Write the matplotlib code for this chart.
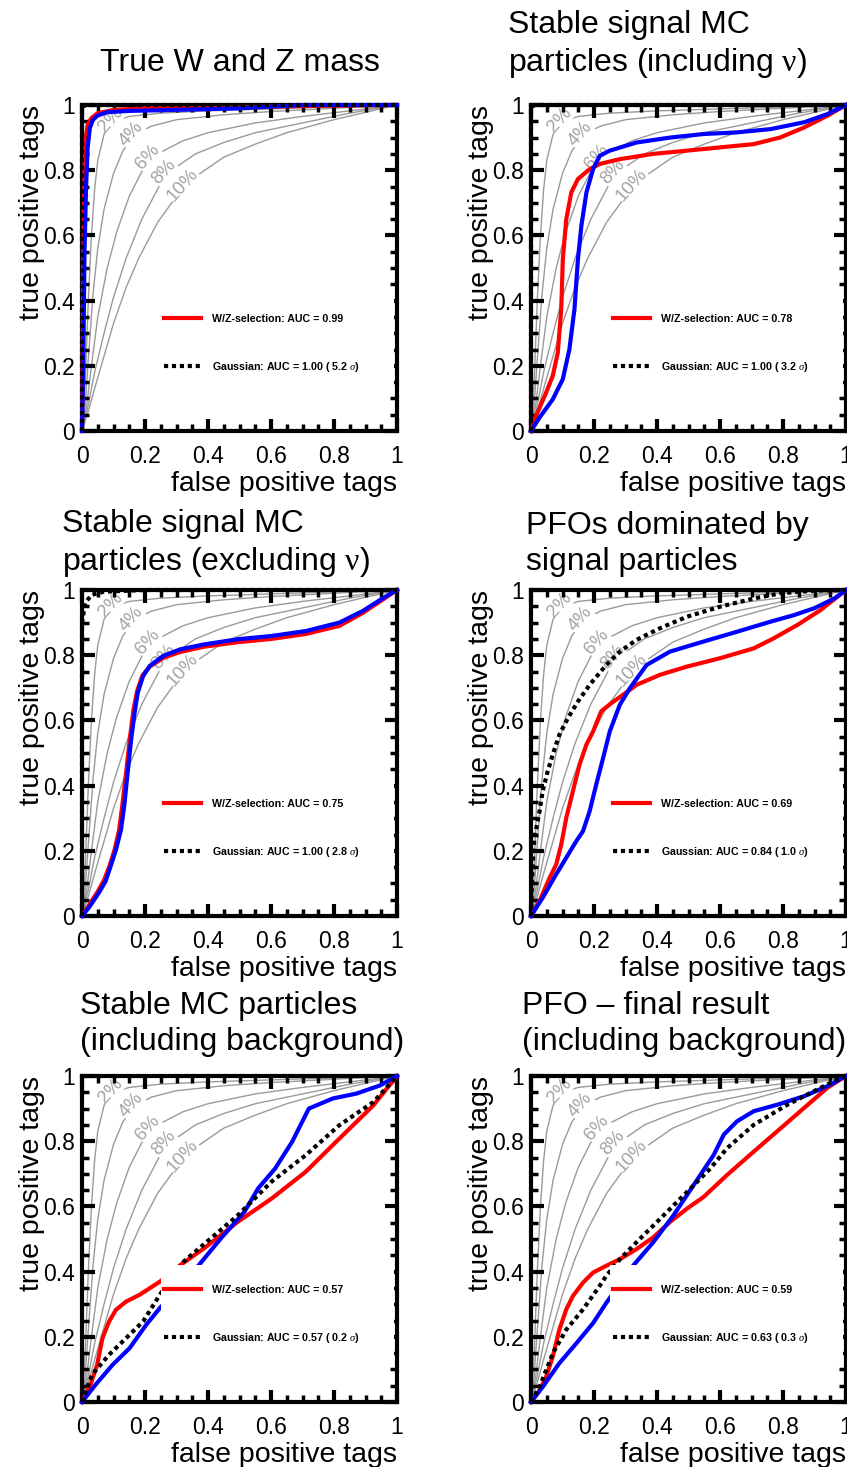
import matplotlib
matplotlib.use('Agg')
import matplotlib.pyplot as plt
from matplotlib.lines import Line2D
from matplotlib.patches import Rectangle

plt.rcParams['font.family'] = ['Liberation Sans', 'DejaVu Sans']
plt.rcParams['mathtext.fontset'] = 'custom'
plt.rcParams['mathtext.rm'] = 'Liberation Serif'
plt.rcParams['mathtext.it'] = 'Liberation Serif:italic'

# grey reference curves, identical in every panel
ref_names = ['2%', '4%', '6%', '8%', '10%']
ref_x = [
    [0, 0.01, 0.02, 0.03, 0.04, 0.05, 0.07, 0.1, 0.15, 0.25, 0.4, 0.6, 0.8, 1],
    [0, 0.01, 0.02, 0.035, 0.05, 0.07, 0.1, 0.13, 0.17, 0.22, 0.3, 0.45, 0.6, 0.8, 1],
    [0, 0.015, 0.03, 0.05, 0.08, 0.11, 0.15, 0.2, 0.25, 0.32, 0.4, 0.55, 0.7, 0.85, 1],
    [0, 0.02, 0.04, 0.07, 0.1, 0.14, 0.19, 0.25, 0.3, 0.36, 0.45, 0.55, 0.7, 0.85, 1],
    [0, 0.02, 0.04, 0.07, 0.1, 0.14, 0.18, 0.24, 0.3, 0.36, 0.45, 0.55, 0.65, 0.8, 1],
]
ref_y = [
    [0, 0.15, 0.4, 0.6, 0.74, 0.83, 0.91, 0.95, 0.965, 0.975, 0.982, 0.988, 0.994, 1],
    [0, 0.08, 0.22, 0.42, 0.56, 0.68, 0.79, 0.86, 0.91, 0.935, 0.955, 0.97, 0.98, 0.99, 1],
    [0, 0.08, 0.2, 0.35, 0.5, 0.61, 0.72, 0.815, 0.855, 0.89, 0.915, 0.945, 0.965, 0.982, 1],
    [0, 0.08, 0.18, 0.3, 0.41, 0.53, 0.65, 0.76, 0.81, 0.85, 0.885, 0.915, 0.945, 0.975, 1],
    [0, 0.06, 0.13, 0.23, 0.33, 0.44, 0.53, 0.64, 0.72, 0.78, 0.84, 0.88, 0.915, 0.955, 1],
]
ref_label_x = [0.092, 0.158, 0.21, 0.26, 0.32]
ref_label_y = [0.955, 0.91, 0.84, 0.795, 0.755]

titles = [
    'True W and Z mass',
    'Stable signal MC\nparticles (including $\\mathrm{\\nu}$)',
    'Stable signal MC\nparticles (excluding $\\mathrm{\\nu}$)',
    'PFOs dominated by\nsignal particles',
    'Stable MC particles\n(including background)',
    'PFO \u2013 final result\n(including background)',
]
wz_auc = ['0.99', '0.78', '0.75', '0.69', '0.57', '0.59']
gauss_auc = ['1.00', '1.00', '1.00', '0.84', '0.57', '0.63']
gauss_sigma = ['5.2', '3.2', '2.8', '1.0', '0.2', '0.3']

# panel 1: true W and Z mass
red1_x = [0, 0.002, 0.004, 0.008, 0.012, 0.018, 0.03, 0.05, 0.1, 0.2, 0.35, 0.5, 0.6, 0.75, 1]
red1_y = [0, 0.22, 0.55, 0.8, 0.9, 0.94, 0.96, 0.975, 0.985, 0.99, 0.99, 0.992, 0.995, 0.998, 1]
blue1_x = [0, 0.004, 0.008, 0.013, 0.018, 0.025, 0.035, 0.05, 0.08, 0.15, 0.3, 0.5, 0.7, 1]
blue1_y = [0, 0.2, 0.55, 0.75, 0.87, 0.93, 0.955, 0.968, 0.978, 0.982, 0.985, 0.99, 1.0, 1.0]
gauss1_x = [0, 0, 0.01, 1]
gauss1_y = [0, 0.99, 1, 1]

# panel 2: stable signal MC incl. nu
red2_x = [0, 0.016, 0.048, 0.069, 0.085, 0.096, 0.101, 0.112, 0.128, 0.149, 0.186, 0.218, 0.282,
          0.388, 0.495, 0.601, 0.707, 0.79, 0.867, 0.941, 1]
red2_y = [0, 0.046, 0.118, 0.169, 0.24, 0.374, 0.527, 0.65, 0.732, 0.773, 0.803, 0.819, 0.834,
          0.85, 0.86, 0.87, 0.88, 0.9, 0.931, 0.967, 1]
blue2_x = [0, 0.027, 0.069, 0.101, 0.122, 0.138, 0.149, 0.16, 0.176, 0.197, 0.218, 0.25, 0.335,
           0.441, 0.548, 0.654, 0.76, 0.867, 0.941, 1]
blue2_y = [0, 0.041, 0.097, 0.159, 0.251, 0.374, 0.527, 0.63, 0.732, 0.803, 0.844, 0.86, 0.885,
           0.9, 0.911, 0.916, 0.926, 0.947, 0.972, 1]
gauss2_x = [0, 0, 0.01, 1]
gauss2_y = [0, 0.99, 1, 1]

# panel 3: stable signal MC excl. nu
red3_x = [0, 0.02, 0.05, 0.07, 0.088, 0.104, 0.118, 0.128, 0.14, 0.152, 0.163, 0.175, 0.192, 0.215,
          0.258, 0.312, 0.387, 0.495, 0.602, 0.71, 0.817, 0.892, 0.957, 1]
red3_y = [0, 0.03, 0.075, 0.11, 0.155, 0.205, 0.265, 0.34, 0.44, 0.545, 0.63, 0.69, 0.738, 0.765,
          0.792, 0.81, 0.826, 0.84, 0.85, 0.865, 0.89, 0.93, 0.972, 1]
blue3_x = [0, 0.022, 0.054, 0.075, 0.091, 0.108, 0.124, 0.134, 0.145, 0.156, 0.167, 0.177, 0.194,
           0.215, 0.258, 0.312, 0.387, 0.495, 0.602, 0.71, 0.817, 0.892, 0.957, 1]
blue3_y = [0, 0.026, 0.072, 0.107, 0.153, 0.204, 0.266, 0.337, 0.44, 0.542, 0.624, 0.685, 0.736,
           0.767, 0.798, 0.818, 0.833, 0.849, 0.859, 0.874, 0.9, 0.936, 0.976, 1]
gauss3_x = [0, 0, 0.01, 0.03, 0.07, 0.2, 1]
gauss3_y = [0, 0.9, 0.96, 0.985, 0.995, 1, 1]

# panel 4: PFOs dominated by signal particles
red4_x = [0, 0.027, 0.059, 0.08, 0.096, 0.112, 0.133, 0.154, 0.176, 0.197, 0.223, 0.255, 0.293,
          0.335, 0.41, 0.495, 0.601, 0.707, 0.771, 0.846, 0.92, 1]
red4_y = [0, 0.046, 0.117, 0.158, 0.219, 0.301, 0.383, 0.464, 0.526, 0.566, 0.628, 0.653, 0.679,
          0.709, 0.74, 0.765, 0.791, 0.821, 0.852, 0.893, 0.939, 1]
blue4_x = [0, 0.037, 0.08, 0.112, 0.144, 0.165, 0.186, 0.207, 0.229, 0.25, 0.282, 0.314, 0.367,
           0.441, 0.548, 0.654, 0.761, 0.835, 0.899, 0.963, 1]
blue4_y = [0, 0.056, 0.128, 0.179, 0.23, 0.26, 0.321, 0.403, 0.485, 0.566, 0.648, 0.699, 0.77,
           0.811, 0.842, 0.872, 0.903, 0.923, 0.944, 0.974, 1]
gauss4_x = [0, 0.003, 0.008, 0.011, 0.027, 0.037, 0.053, 0.069, 0.09, 0.117, 0.149, 0.186, 0.239,
            0.282, 0.335, 0.41, 0.495, 0.601, 0.707, 0.793, 0.9, 1]
gauss4_y = [0, 0.1, 0.2, 0.24, 0.32, 0.383, 0.444, 0.495, 0.556, 0.607, 0.658, 0.709, 0.77,
            0.811, 0.847, 0.883, 0.918, 0.949, 0.974, 0.99, 0.998, 1]

# panel 5: stable MC particles incl. background
red5_x = [0, 0.027, 0.048, 0.065, 0.086, 0.108, 0.14, 0.183, 0.215, 0.247, 0.312, 0.387, 0.495,
          0.602, 0.71, 0.817, 0.925, 1]
red5_y = [0, 0.053, 0.114, 0.196, 0.247, 0.283, 0.308, 0.329, 0.349, 0.369, 0.42, 0.471, 0.553,
          0.624, 0.706, 0.808, 0.91, 1]
blue5_x = [0, 0.043, 0.097, 0.151, 0.204, 0.247, 0.371, 0.441, 0.516, 0.559, 0.613, 0.667, 0.72,
           0.796, 0.871, 0.946, 1]
blue5_y = [0, 0.053, 0.114, 0.165, 0.237, 0.288, 0.42, 0.502, 0.584, 0.655, 0.716, 0.798, 0.9,
           0.931, 0.946, 0.971, 1]
gauss5_x = [0, 0.032, 0.086, 0.14, 0.194, 0.247, 0.323, 0.409, 0.495, 0.602, 0.71, 0.817, 0.925, 1]
gauss5_y = [0, 0.084, 0.145, 0.196, 0.247, 0.329, 0.431, 0.502, 0.573, 0.676, 0.757, 0.849, 0.92, 1]

# panel 6: PFO final result incl. background
red6_x = [0, 0.027, 0.048, 0.069, 0.09, 0.112, 0.133, 0.165, 0.197, 0.239, 0.282, 0.335, 0.388,
          0.441, 0.495, 0.548, 0.622, 0.707, 0.793, 0.867, 0.941, 1]
red6_y = [0, 0.036, 0.077, 0.139, 0.222, 0.284, 0.325, 0.366, 0.397, 0.418, 0.438, 0.469, 0.505,
          0.552, 0.593, 0.629, 0.696, 0.768, 0.84, 0.902, 0.964, 1]
blue6_x = [0, 0.037, 0.09, 0.144, 0.197, 0.239, 0.324, 0.388, 0.452, 0.516, 0.58, 0.612, 0.654,
           0.707, 0.782, 0.867, 0.941, 1]
blue6_y = [0, 0.046, 0.119, 0.18, 0.242, 0.304, 0.418, 0.49, 0.572, 0.665, 0.758, 0.82, 0.861,
           0.892, 0.912, 0.938, 0.969, 1]
gauss6_x = [0, 0.027, 0.069, 0.112, 0.165, 0.218, 0.239, 0.282, 0.335, 0.41, 0.495, 0.569, 0.622,
            0.707, 0.814, 0.92, 0.984, 1]
gauss6_y = [0, 0.046, 0.149, 0.222, 0.284, 0.356, 0.387, 0.438, 0.49, 0.562, 0.644, 0.716, 0.778,
            0.85, 0.912, 0.964, 0.995, 1]

red_x = [red1_x, red2_x, red3_x, red4_x, red5_x, red6_x]
red_y = [red1_y, red2_y, red3_y, red4_y, red5_y, red6_y]
blue_x = [blue1_x, blue2_x, blue3_x, blue4_x, blue5_x, blue6_x]
blue_y = [blue1_y, blue2_y, blue3_y, blue4_y, blue5_y, blue6_y]
gauss_x = [gauss1_x, gauss2_x, gauss3_x, gauss4_x, gauss5_x, gauss6_x]
gauss_y = [gauss1_y, gauss2_y, gauss3_y, gauss4_y, gauss5_y, gauss6_y]

W, H = 847, 1467
fig = plt.figure(figsize=(W / 100, H / 100), dpi=100)

# axes boxes in pixels: left, top
ax_left = [82, 531, 82, 531, 82, 531]
ax_top = [105, 105, 590, 590, 1076, 1076]
ax_w, ax_h = 315, 326

# title anchors in pixels
title_x = [240, 508, 62, 526, 80, 522]
title_y = [63, 45, 544, 544, 1024, 1024]
title_ha = ['center', 'left', 'left', 'left', 'left', 'left']

dots = (1, 0.9)

for i in range(6):
    ax = fig.add_axes([ax_left[i] / W, 1 - (ax_top[i] + ax_h) / H, ax_w / W, ax_h / H])
    ax.set_xlim(0, 1)
    ax.set_ylim(0, 1)

    # grey reference curves with inline labels
    for k in range(len(ref_names)):
        ax.plot(ref_x[k], ref_y[k], color='#9a9a9a', lw=1.0, zorder=1)
        ax.text(ref_label_x[k], ref_label_y[k], ref_names[k], color='#a4a4a4', fontsize=13.5,
                rotation=48, ha='center', va='center', zorder=1.5,
                bbox=dict(facecolor='white', edgecolor='none', pad=0.1))

    ax.plot(red_x[i], red_y[i], color='#ff0000', lw=3.0, zorder=4, clip_on=False)
    ax.plot(blue_x[i], blue_y[i], color='#0000ff', lw=3.0, zorder=5, clip_on=False)
    ax.plot(gauss_x[i], gauss_y[i], color='black', lw=3.0, dashes=dots, zorder=6, clip_on=False)

    # white box behind legend hides the curves
    ax.add_patch(Rectangle((0.25, 0.13), 0.74, 0.29, transform=ax.transAxes,
                           facecolor='white', edgecolor='none', zorder=7))
    handles = [Line2D([], [], color='#ff0000', lw=3.0),
               Line2D([], [], color='black', lw=3.0, dashes=dots)]
    labels = ['W/Z-selection: AUC = ' + wz_auc[i],
              'Gaussian: AUC = ' + gauss_auc[i] + ' ( ' + gauss_sigma[i] + r' $\sigma$)']
    leg = ax.legend(handles, labels, loc='upper left', bbox_to_anchor=(0.25, 0.37),
                    frameon=False, prop={'weight': 'bold', 'size': 7.7},
                    handlelength=3.5, handletextpad=1.0, labelspacing=3.4,
                    borderpad=0.3, borderaxespad=0)
    leg.set_zorder(8)

    for s in ax.spines.values():
        s.set_linewidth(3)
        s.set_zorder(3)
    ax.set_xticks([0, 0.2, 0.4, 0.6, 0.8, 1])
    ax.set_yticks([0, 0.2, 0.4, 0.6, 0.8, 1])
    ax.set_xticklabels(['0', '0.2', '0.4', '0.6', '0.8', '1'])
    ax.set_yticklabels(['0', '0.2', '0.4', '0.6', '0.8', '1'])
    ax.set_xticks([j * 0.05 for j in range(21)], minor=True)
    ax.set_yticks([j * 0.05 for j in range(21)], minor=True)
    ax.tick_params(which='both', direction='in', top=True, right=True, labelsize=16.5)
    ax.tick_params(which='major', length=9, width=3)
    ax.tick_params(which='minor', length=5, width=2.5)
    ax.tick_params(axis='x', which='major', pad=10)
    ax.tick_params(axis='y', which='major', pad=5)
    ax.set_xlabel('false positive tags', fontsize=20.5, loc='right', labelpad=2)
    ax.set_ylabel('true positive tags', fontsize=20.5, loc='top', labelpad=-1)

    fig.text(title_x[i] / W, 1 - title_y[i] / H, titles[i], fontsize=23,
             ha=title_ha[i], va='center', linespacing=1.27)

fig.savefig('out.png', dpi=100)
